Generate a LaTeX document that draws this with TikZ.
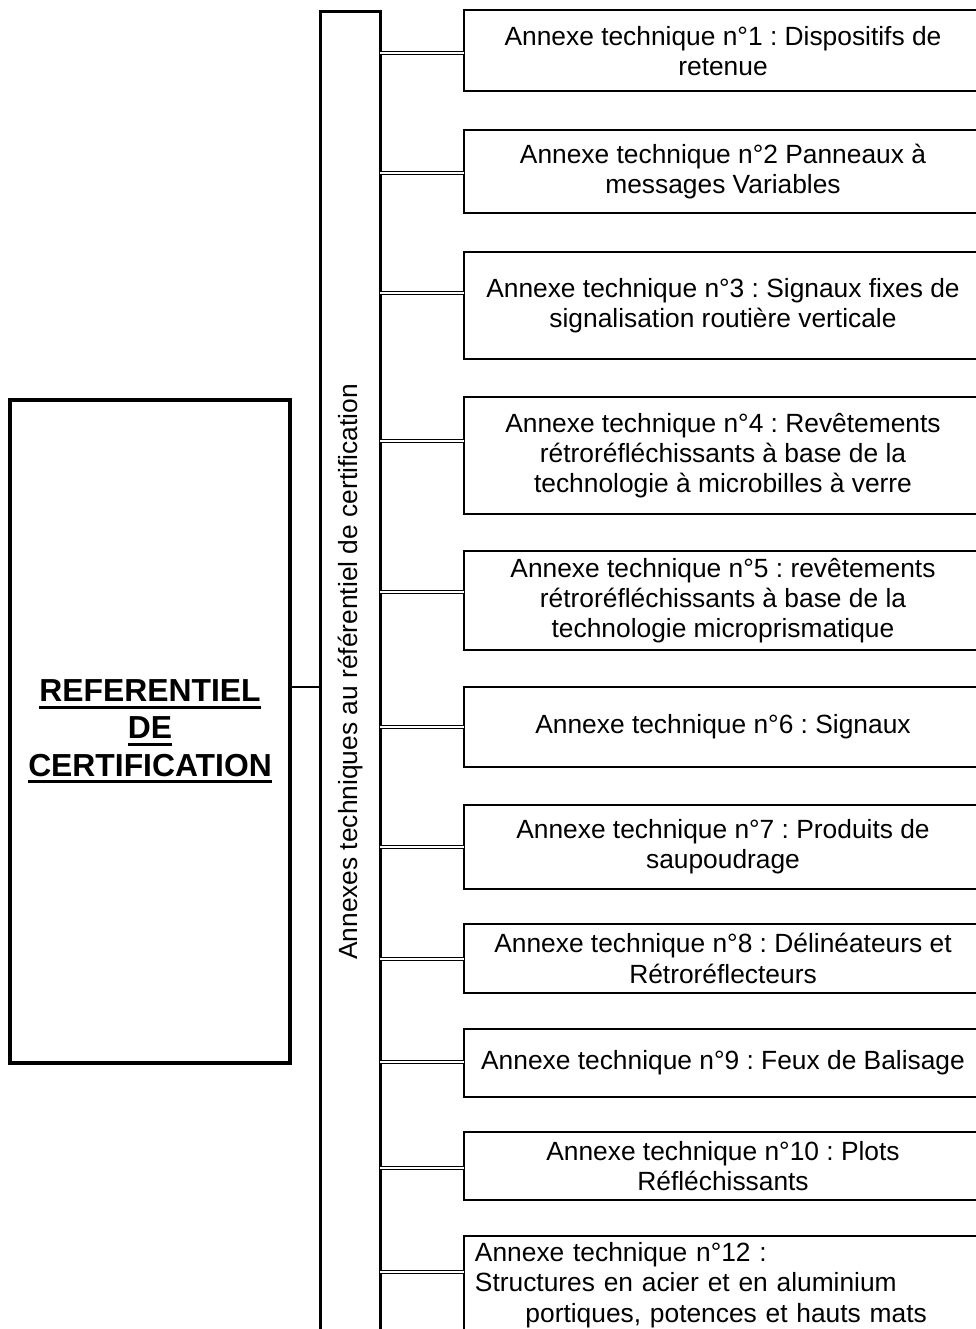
\documentclass[tikz,border=0pt]{standalone}
\usepackage{fontspec}
\setmainfont{Liberation Sans}
\usepackage{tikz}
\frenchspacing
\newcommand\ulbox[1]{\setbox0\hbox{#1}\rlap{\rule[-3.2pt]{\wd0}{1.3pt}}\box0}

\begin{document}
\begin{tikzpicture}[x=0.016cm, y=-0.016cm,
    annexe/.style={draw, line width=0.9pt, outer sep=0pt, minimum width=8.288cm,
      align=center, font=\fontsize{12}{13.8}\selectfont},
    link/.style={double, line width=0.7pt, double distance=0.75pt},
    thickbox/.style={draw, line width=1.8pt, outer sep=0pt}]
            \useasboundingbox (0,0) rectangle (976,1329);
            \clip (0,0) rectangle (976,1329);

            % Main box
            \node[thickbox, minimum width=4.48cm, minimum height=10.608cm, align=center,
              font=\fontsize{14.5}{17}\selectfont\bfseries] (ref) at (150,731.5)
              {\ulbox{REFERENTIEL}\\\ulbox{DE}\\\ulbox{CERTIFICATION}};

            % Vertical bar of the annexes
            \node[thickbox, anchor=north west, minimum width=0.96cm, minimum height=22.4cm] (bar) at (320.5,11.5) {};
            \node[rotate=90, font=\fontsize{12}{13.8}\selectfont] (barlabel) at (351,672)
              {Annexes techniques au référentiel de certification};

            % Annex boxes
            \node[annexe, minimum height=1.304cm] (b1) at (723,50.75) {Annexe technique n°1 : Dispositifs de\\retenue};
            \node[annexe, minimum height=1.328cm] (b2) at (723,171.5) {Annexe technique n°2 Panneaux à\\messages Variables};
            \node[annexe, minimum height=1.712cm] (b3) at (723,305.5) {Annexe technique n°3 : Signaux fixes de\\signalisation routière verticale};
            \node[annexe, minimum height=1.872cm] (b4) at (723,455.5) {Annexe technique n°4 : Revêtements\\rétroréfléchissants à base de la\\technologie à microbilles à verre};
            \node[annexe, minimum height=1.52cm] (b5) at (723,600.5) {Annexe technique n°5 : revêtements\\rétroréfléchissants à base de la\\technologie microprismatique};
            \node[annexe, minimum height=1.28cm] (b6) at (723,727) {Annexe technique n°6 : Signaux};
            \node[annexe, minimum height=1.344cm] (b7) at (723,847) {Annexe technique n°7 : Produits de\\saupoudrage};
            \node[annexe, minimum height=1.104cm] (b8) at (723,958.5) {Annexe technique n°8 : Délinéateurs et\\Rétroréflecteurs};
            \node[annexe, minimum height=1.088cm] (b9) at (723,1063) {Annexe technique n°9 : Feux de Balisage};
            \node[annexe, minimum height=1.088cm] (b10) at (723,1166) {Annexe technique n°10 : Plots\\Réfléchissants};
            \node[annexe, anchor=north west, align=left, inner xsep=5pt, inner ysep=3pt,
              text width=8.288cm-10pt] (b12) at (464,1236)
              {Annexe technique n°12 :\\Structures en acier et en aluminium\\\hspace*{23pt}portiques, potences et hauts mats\\[4pt]};

            % Links from the bar to the annexes
            \foreach \i/\y in {1/53, 2/173, 3/293, 4/441, 5/592, 6/727, 7/847, 8/959, 9/1062, 10/1168, 12/1272} {
              \coordinate (c\i) at (0,\y);
              \draw[link] (bar.east |- c\i) -- (b\i.west |- c\i);
            }

            % Link from the main box to the bar
            \coordinate (c0) at (0,687);
            \draw[line width=1.3pt] (ref.east |- c0) -- (bar.west |- c0);
        \end{tikzpicture}
\end{document}
